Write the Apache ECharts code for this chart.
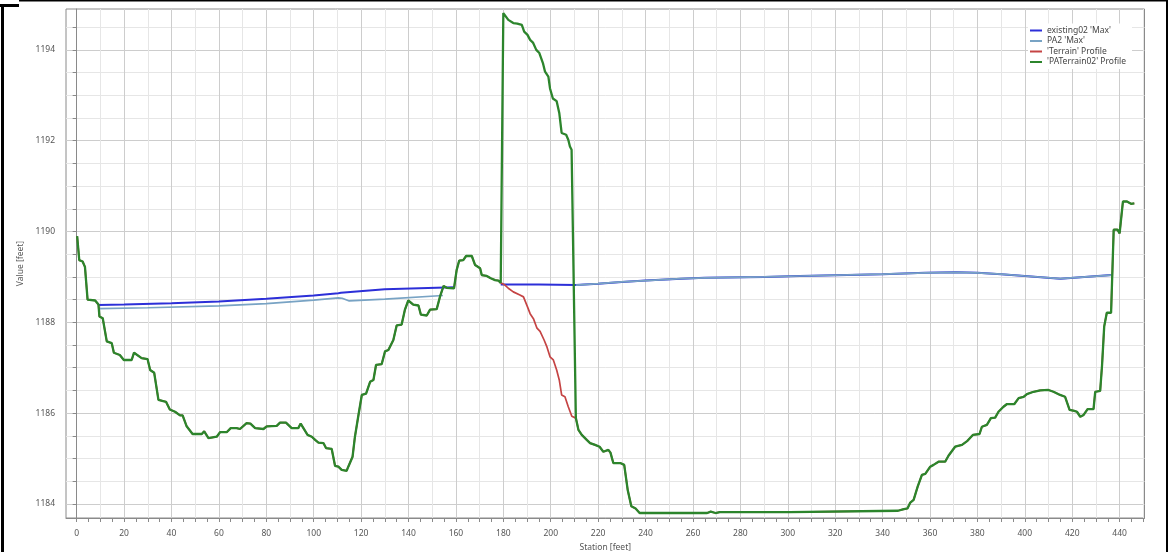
<!DOCTYPE html>
<html>
<head>
<meta charset="utf-8">
<script src="https://cdn.jsdelivr.net/npm/echarts@6/dist/echarts.min.js"></script>
<style>
html,body{margin:0;padding:0;background:#fff;}
#chart{width:1171px;height:552px;}
</style>
</head>
<body>
<div id="chart"></div>
<script>
// ---------- data (station [feet], value [feet]) ----------
const seriesNames = ["existing02 'Max'", "PA2 'Max'", "'Terrain' Profile", "'PATerrain02' Profile"];

const xTickValues = [0,5,10,15,20,25,30,35,40,45,50,55,60,65,70,75,80,85,90,95,100,105,110,115,120,125,130,135,140,145,150,155,160,165,170,175,180,185,190,195,200,205,210,215,220,225,230,235,240,245,250,255,260,265,270,275,280,285,290,295,300,305,310,315,320,325,330,335,340,345,350,355,360,365,370,375,380,385,390,395,400,405,410,415,420,425,430,435,440,445,450];
const xGridMinor = [10,30,50,70,90,110,130,150,170,190,210,230,250,270,290,310,330,350,370,390,410,430,450];
const xLabelValues = [0,20,40,60,80,100,120,140,160,180,200,220,240,260,280,300,320,340,360,380,400,420,440];
const yTickValues = [1184,1184.5,1185,1185.5,1186,1186.5,1187,1187.5,1188,1188.5,1189,1189.5,1190,1190.5,1191,1191.5,1192,1192.5,1193,1193.5,1194,1194.5];
const yGridMinor = [1184.5,1185,1185.5,1186.5,1187,1187.5,1188.5,1189,1189.5,1190.5,1191,1191.5,1192.5,1193,1193.5,1194.5];
const yLabelValues = [1184,1186,1188,1190,1192,1194];

// ground common to both terrains, left of the fill
const groundLeft = [[0.2,1189.90],[1.1,1189.37],[2.5,1189.34],[3.5,1189.22],[4.6,1188.50],[7.8,1188.48],[9.2,1188.39],[9.6,1188.13],[11.0,1188.09],[12.7,1187.58],[14.8,1187.54],[15.7,1187.33],[18.2,1187.28],[19.9,1187.17],[23.2,1187.17],[24.2,1187.33],[27.4,1187.21],[29.9,1187.19],[31.0,1186.95],[32.7,1186.89],[34.5,1186.29],[37.7,1186.25],[39.3,1186.08],[41.5,1186.03],[43.6,1185.95],[44.7,1185.95],[46.4,1185.71],[48.9,1185.54],[52.8,1185.54],[53.8,1185.60],[55.6,1185.45],[59.1,1185.48],[60.5,1185.58],[63.3,1185.58],[65.0,1185.67],[67.5,1185.67],[68.9,1185.65],[71.7,1185.78],[73.3,1185.77],[75.3,1185.67],[78.8,1185.65],[80.2,1185.71],[84.4,1185.72],[85.8,1185.79],[88.3,1185.79],[90.7,1185.67],[93.5,1185.67],[94.5,1185.77],[95.3,1185.75],[97.4,1185.52],[99.2,1185.48],[100.6,1185.41],[102.0,1185.35],[104.1,1185.34],[105.2,1185.23],[107.6,1185.21],[109.0,1184.84],[110.4,1184.82],[111.8,1184.75],[113.9,1184.73],[114.6,1184.82],[116.4,1185.04],[117.4,1185.48],[118.8,1185.93],[120.3,1186.40],[122.1,1186.43],[123.8,1186.69],[125.2,1186.73],[126.3,1187.06],[128.7,1187.08],[130.1,1187.36],[131.5,1187.39],[133.6,1187.61],[135.0,1187.93],[137.1,1187.95],[138.5,1188.28],[139.9,1188.48],[142.0,1188.39],[144.2,1188.37],[145.2,1188.17],[147.7,1188.15],[149.1,1188.28],[151.9,1188.29],[153.3,1188.57],[154.8,1188.80],[156.1,1188.76],[159.2,1188.75],[160.3,1189.15],[161.4,1189.36],[163.1,1189.37],[164.3,1189.46],[166.7,1189.46],[168.1,1189.26],[170.2,1189.19],[170.9,1189.04],[173.0,1189.02],[174.7,1188.97],[176.5,1188.93],[177.9,1188.92],[178.9,1188.87]];

// existing terrain between 179 and 211
const terrainMid = [[180.7,1188.82],[182.1,1188.75],[184.2,1188.67],[187.0,1188.60],[188.5,1188.56],[190.2,1188.34],[191.3,1188.19],[192.7,1188.08],[194.2,1187.87],[195.5,1187.80],[197.2,1187.61],[198.3,1187.47],[199.7,1187.24],[201.1,1187.17],[202.5,1186.95],[203.6,1186.73],[204.6,1186.40],[206.0,1186.36],[207.4,1186.14],[208.9,1185.93],[210.6,1185.89]];

// proposed terrain (fill) between 179 and 211
const paTerrainMid = [[180.0,1194.81],[180.7,1194.81],[182.1,1194.66],[184.2,1194.59],[185.9,1194.58],[187.8,1194.55],[188.8,1194.40],[190.2,1194.33],[191.3,1194.22],[192.5,1194.16],[193.9,1194.00],[195.2,1193.93],[196.7,1193.71],[197.6,1193.52],[199.0,1193.41],[199.7,1193.15],[200.9,1192.93],[202.5,1192.87],[203.6,1192.61],[204.6,1192.17],[206.5,1192.13],[207.4,1192.02],[208.1,1191.87],[208.8,1191.80],[210.6,1185.89]];

// ground common to both terrains, right of the fill
const groundRight = [[211.7,1185.63],[213.1,1185.52],[215.2,1185.41],[216.6,1185.34],[218.7,1185.30],[220.6,1185.26],[222.2,1185.15],[224.3,1185.19],[225.2,1185.13],[226.4,1184.90],[229.3,1184.90],[231.0,1184.86],[232.5,1184.30],[234.0,1183.95],[235.8,1183.90],[237.5,1183.80],[266.0,1183.80],[267.5,1183.83],[269.5,1183.80],[271.3,1183.82],[300.8,1183.82],[301.5,1183.85],[346.5,1183.85],[348.6,1183.88],[350.5,1183.90],[351.7,1184.03],[353.1,1184.09],[354.8,1184.38],[356.6,1184.64],[358.0,1184.66],[360.1,1184.82],[361.5,1184.86],[363.6,1184.93],[366.4,1184.93],[367.8,1185.06],[370.6,1185.26],[373.5,1185.30],[375.8,1185.39],[378.1,1185.52],[380.9,1185.54],[381.9,1185.70],[384.0,1185.74],[385.7,1185.89],[387.5,1185.90],[388.9,1186.03],[391.0,1186.14],[392.5,1186.20],[395.6,1186.20],[397.4,1186.33],[399.5,1186.36],[400.9,1186.42],[403.7,1186.47],[406.5,1186.50],[410.0,1186.51],[412.1,1186.47],[414.9,1186.40],[417.0,1186.36],[418.9,1186.07],[420.9,1186.05],[422.0,1186.03],[423.4,1185.92],[424.8,1185.96],[426.5,1186.09],[429.0,1186.09],[429.7,1186.47],[431.8,1186.49],[432.6,1187.06],[433.5,1187.91],[434.6,1188.21],[436.4,1188.21],[437.5,1190.04],[439.1,1190.04],[440.0,1189.96],[441.4,1190.66],[443.1,1190.66],[444.8,1190.61],[446.2,1190.62]];

// water surfaces
const existingLeft = [[9.1,1188.38],[20,1188.39],[40,1188.42],[60,1188.46],[80,1188.52],[100,1188.59],[110.4,1188.64],[111.5,1188.65],[112.3,1188.69],[130,1188.73],[159.2,1188.77]];
const existingMid = [[178.9,1188.83],[195,1188.83],[210.6,1188.82]];
const pa2Left = [[9.5,1188.30],[30,1188.32],[60,1188.36],[80,1188.41],[100,1188.49],[110.4,1188.54],[112,1188.53],[115,1188.47],[130,1188.51],[154.5,1188.59]];
const waterRight = [[210.6,1188.82],[220,1188.85],[230,1188.89],[240,1188.92],[255,1188.96],[265,1188.98],[290,1189.00],[305,1189.02],[340,1189.06],[358,1189.09],[371,1189.10],[380,1189.09],[390,1189.06],[400,1189.02],[415,1188.96],[436.6,1189.04]];
const gapPoint = [[168, null]];

// ---------- chart ----------
const X_MIN = -4.5, X_MAX = 450.5, Y_MIN = 1183.69, Y_MAX = 1194.9;
const FONT = 'Noto Sans';
const axisGray = '#8a8a8a';

function helperX(values, color) {
  return {
    type: 'value', min: X_MIN, max: X_MAX, position: 'bottom',
    axisLine: {show: false}, axisLabel: {show: false},
    axisTick: {show: false, customValues: values},
    splitLine: {show: true, lineStyle: {color: color, width: 1}}
  };
}
function helperY(values, color) {
  return {
    type: 'value', min: Y_MIN, max: Y_MAX, position: 'left',
    axisLine: {show: false}, axisLabel: {show: false},
    axisTick: {show: false, customValues: values},
    splitLine: {show: true, lineStyle: {color: color, width: 1}}
  };
}

const chart = echarts.init(document.getElementById('chart'), null, {renderer: 'canvas'});
chart.setOption({
  animation: false,
  backgroundColor: '#ffffff',
  textStyle: {fontFamily: FONT},
  grid: {left: 66, right: 26.5, top: 9, bottom: 34, show: true, borderColor: axisGray, borderWidth: 1, backgroundColor: 'transparent', outerBoundsMode: 'none', containLabel: false},
  legend: {
    data: seriesNames, orient: 'vertical', left: 1028, top: 23.5,
    padding: [2, 6, 2, 2], backgroundColor: '#ffffff',
    icon: 'rect', itemWidth: 12, itemHeight: 2, itemGap: 0.5,
    textStyle: {fontSize: 8.5, lineHeight: 10, color: '#444', fontFamily: FONT}
  },
  xAxis: [
    {
      type: 'value', min: X_MIN, max: X_MAX, position: 'bottom',
      name: 'Station [feet]', nameLocation: 'middle', nameGap: 23,
      nameTextStyle: {fontSize: 8.5, color: '#555', fontFamily: FONT},
      axisLine: {show: true, lineStyle: {color: axisGray, width: 1}},
      axisTick: {show: true, inside: false, length: 4, customValues: xTickValues, lineStyle: {color: axisGray}},
      axisLabel: {show: true, customValues: xLabelValues, margin: 11, fontSize: 8.5, color: '#555', fontFamily: FONT, formatter: v => String(v)},
      splitLine: {show: false}
    },
    helperX(xGridMinor, '#e6e6e6'),
    helperX(xLabelValues, '#cdcdcd')
  ],
  yAxis: [
    {
      type: 'value', min: Y_MIN, max: Y_MAX, position: 'left',
      name: 'Value [feet]', nameLocation: 'middle', nameGap: 33, nameRotate: 90,
      nameTextStyle: {fontSize: 8.5, color: '#555', fontFamily: FONT},
      axisLine: {show: true, lineStyle: {color: axisGray, width: 1}},
      axisTick: {show: true, inside: false, length: 4, customValues: yTickValues, lineStyle: {color: axisGray}},
      axisLabel: {show: true, customValues: yLabelValues, margin: 11, fontSize: 8.5, color: '#555', fontFamily: FONT, formatter: v => String(v)},
      splitLine: {show: false}
    },
    helperY(yGridMinor, '#e6e6e6'),
    helperY(yLabelValues, '#cdcdcd')
  ],
  series: [
    {
      name: seriesNames[0], type: 'line', showSymbol: false, symbol: 'none', connectNulls: false,
      color: '#2c2fd8', lineStyle: {width: 2, color: '#2c2fd8'},
      data: existingLeft.concat(gapPoint, existingMid, waterRight)
    },
    {
      name: seriesNames[1], type: 'line', showSymbol: false, symbol: 'none', connectNulls: false,
      color: '#78a3c4', lineStyle: {width: 1.7, color: '#78a3c4'},
      data: pa2Left.concat(gapPoint, waterRight)
    },
    {
      name: seriesNames[2], type: 'line', showSymbol: false, symbol: 'none',
      color: '#c54444', lineStyle: {width: 1.7, color: '#c54444'},
      data: groundLeft.concat(terrainMid, groundRight)
    },
    {
      name: seriesNames[3], type: 'line', showSymbol: false, symbol: 'none',
      color: '#2c852c', lineStyle: {width: 2.3, color: '#2c852c'},
      data: groundLeft.concat(paTerrainMid, groundRight)
    }
  ],
  graphic: [
    {type: 'rect', silent: true, z: 100, shape: {x: 0, y: 4, width: 19, height: 3}, style: {fill: '#000'}},
    {type: 'rect', silent: true, z: 100, shape: {x: 1, y: 4, width: 3, height: 548}, style: {fill: '#000'}},
    {type: 'rect', silent: true, z: 100, shape: {x: 19, y: 0, width: 1149, height: 1.5}, style: {fill: '#000'}},
    {type: 'rect', silent: true, z: 100, shape: {x: 1166, y: 0, width: 2, height: 552}, style: {fill: '#000'}}
  ]
});
</script>
</body>
</html>
